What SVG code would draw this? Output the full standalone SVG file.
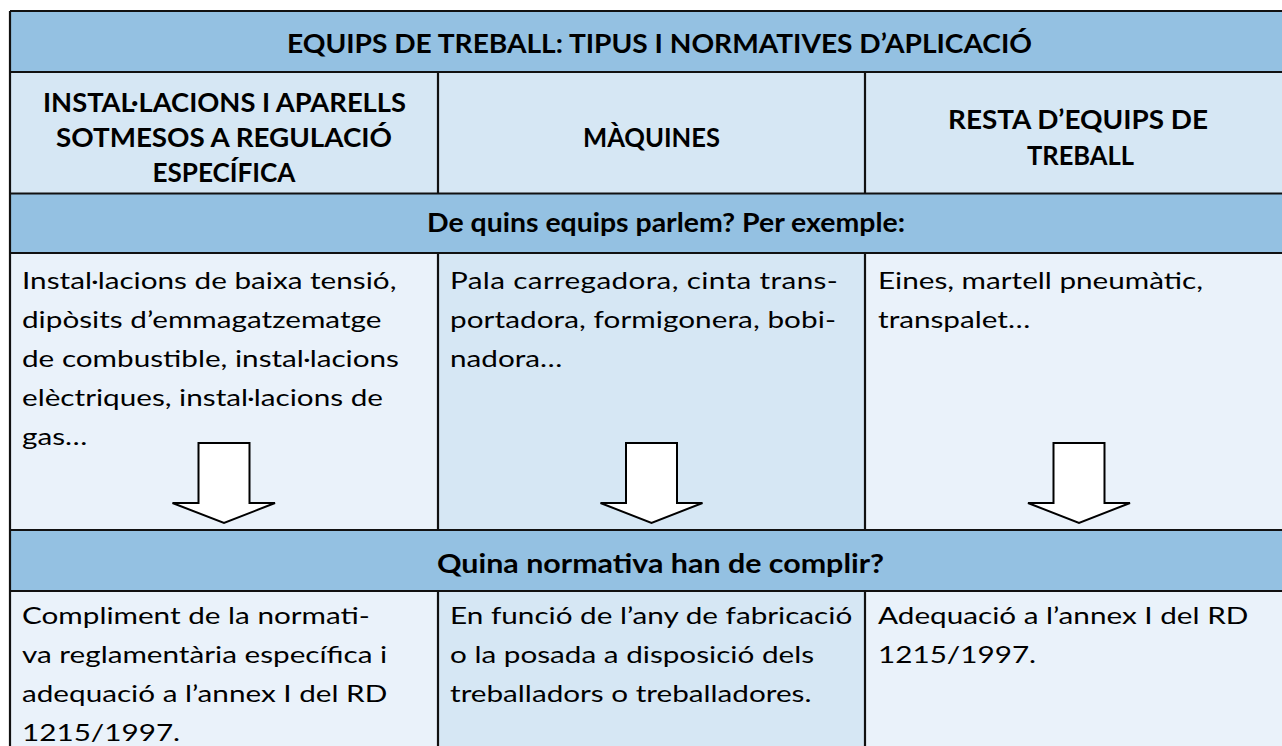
<svg xmlns="http://www.w3.org/2000/svg" width="1282" height="746" viewBox="0 0 1282 746">
<style>
.hdr{fill:#94c1e2}
.mid{fill:#d6e7f4}
.lt{fill:#eaf2fa}
.ln{stroke:#111;stroke-width:2.2;fill:none}
.b{font-family:Lato,"Liberation Sans",sans-serif;font-weight:bold;font-size:26px;fill:#000;text-anchor:middle}
.r{font-family:Lato,"Liberation Sans",sans-serif;font-size:24px;fill:#000}
.arr{fill:#fff;stroke:#000;stroke-width:2;stroke-linejoin:miter}
</style>
<rect width="1282" height="746" fill="#fff"/>
<g id="title">
<rect class="hdr" x="10" y="11" width="1272" height="61"/>
<text class="b" x="659.5" y="53" textLength="745" lengthAdjust="spacingAndGlyphs">EQUIPS DE TREBALL: TIPUS I NORMATIVES D’APLICACIÓ</text>
</g>
<g id="col1-head">
<rect class="mid" x="10" y="72" width="428" height="121"/>
<text class="b" x="224.5" y="112" textLength="363" lengthAdjust="spacingAndGlyphs">INSTAL·LACIONS I APARELLS</text>
<text class="b" x="224" y="147" textLength="336" lengthAdjust="spacingAndGlyphs">SOTMESOS A REGULACIÓ</text>
<text class="b" x="224" y="182" textLength="143" lengthAdjust="spacingAndGlyphs">ESPECÍFICA</text>
</g>
<g id="col2-head">
<rect class="mid" x="438" y="72" width="427" height="121"/>
<text class="b" x="651.5" y="147" textLength="137" lengthAdjust="spacingAndGlyphs">MÀQUINES</text>
</g>
<g id="col3-head">
<rect class="mid" x="865" y="72" width="417" height="121"/>
<text class="b" x="1078" y="129" textLength="260" lengthAdjust="spacingAndGlyphs">RESTA D’EQUIPS DE</text>
<text class="b" x="1080.5" y="165" textLength="107" lengthAdjust="spacingAndGlyphs">TREBALL</text>
</g>
<g id="q1">
<rect class="hdr" x="10" y="193" width="1272" height="60"/>
<text class="b" x="666" y="232" textLength="478" lengthAdjust="spacingAndGlyphs">De quins equips parlem? Per exemple:</text>
</g>
<g id="ex1">
<rect class="lt" x="10" y="253" width="428" height="277"/>
<g transform="translate(22 0) scale(1.237 1)">
<text class="r" x="0" y="289">Instal·lacions de baixa tensió,</text>
<text class="r" x="0" y="328">dipòsits d’emmagatzematge</text>
<text class="r" x="0" y="367">de combustible, instal·lacions</text>
<text class="r" x="0" y="406">elèctriques, instal·lacions de</text>
<text class="r" x="0" y="445">gas…</text>
</g>
</g>
<g id="ex2">
<rect class="mid" x="438" y="253" width="427" height="277"/>
<g transform="translate(450 0) scale(1.237 1)">
<text class="r" x="0" y="289" textLength="313.5" lengthAdjust="spacing">Pala carregadora, cinta trans-</text>
<text class="r" x="0" y="328" textLength="312" lengthAdjust="spacing">portadora, formigonera, bobi-</text>
<text class="r" x="0" y="367">nadora…</text>
</g>
</g>
<g id="ex3">
<rect class="lt" x="865" y="253" width="417" height="277"/>
<g transform="translate(878 0) scale(1.237 1)">
<text class="r" x="0" y="289">Eines, martell pneumàtic,</text>
<text class="r" x="0" y="328">transpalet…</text>
</g>
</g>
<g id="q2">
<rect class="hdr" x="10" y="530" width="1272" height="61"/>
<text class="b" x="660.5" y="573" textLength="447" lengthAdjust="spacingAndGlyphs">Quina normativa han de complir?</text>
</g>
<g id="norm1">
<rect class="lt" x="10" y="591" width="428" height="155"/>
<g transform="translate(22 0) scale(1.237 1)">
<text class="r" x="0" y="624">Compliment de la normati-</text>
<text class="r" x="0" y="663">va reglamentària específica i</text>
<text class="r" x="0" y="702">adequació a l’annex I del RD</text>
<text class="r" x="0" y="741">1215/1997.</text>
</g>
</g>
<g id="norm2">
<rect class="mid" x="438" y="591" width="427" height="155"/>
<g transform="translate(450 0) scale(1.237 1)">
<text class="r" x="0" y="624">En funció de l’any de fabricació</text>
<text class="r" x="0" y="663">o la posada a disposició dels</text>
<text class="r" x="0" y="702">treballadors o treballadores.</text>
</g>
</g>
<g id="norm3">
<rect class="lt" x="865" y="591" width="417" height="155"/>
<g transform="translate(878 0) scale(1.237 1)">
<text class="r" x="0" y="624">Adequació a l’annex I del RD</text>
<text class="r" x="0" y="663">1215/1997.</text>
</g>
</g>
<g id="grid">
<path class="ln" d="M10 11H1282M10 72H1282M10 193.5H1282M10 253H1282M10 530H1282M10 591H1282M10 11V746M438 72V193.5M865 72V193.5M438 253V530M865 253V530M438 591V746M865 591V746"/>
</g>
<g id="connectors">
<polygon class="arr" points="198.5,443 249.5,443 249.5,503 275,503 224,523 172.5,503 198.5,503"/>
<polygon class="arr" points="626,443 677,443 677,503 702.5,503 651.5,523 600.5,503 626,503"/>
<polygon class="arr" points="1053.5,443 1104.5,443 1104.5,503 1130,503 1079,523 1028,503 1053.5,503"/>
</g>
</svg>
